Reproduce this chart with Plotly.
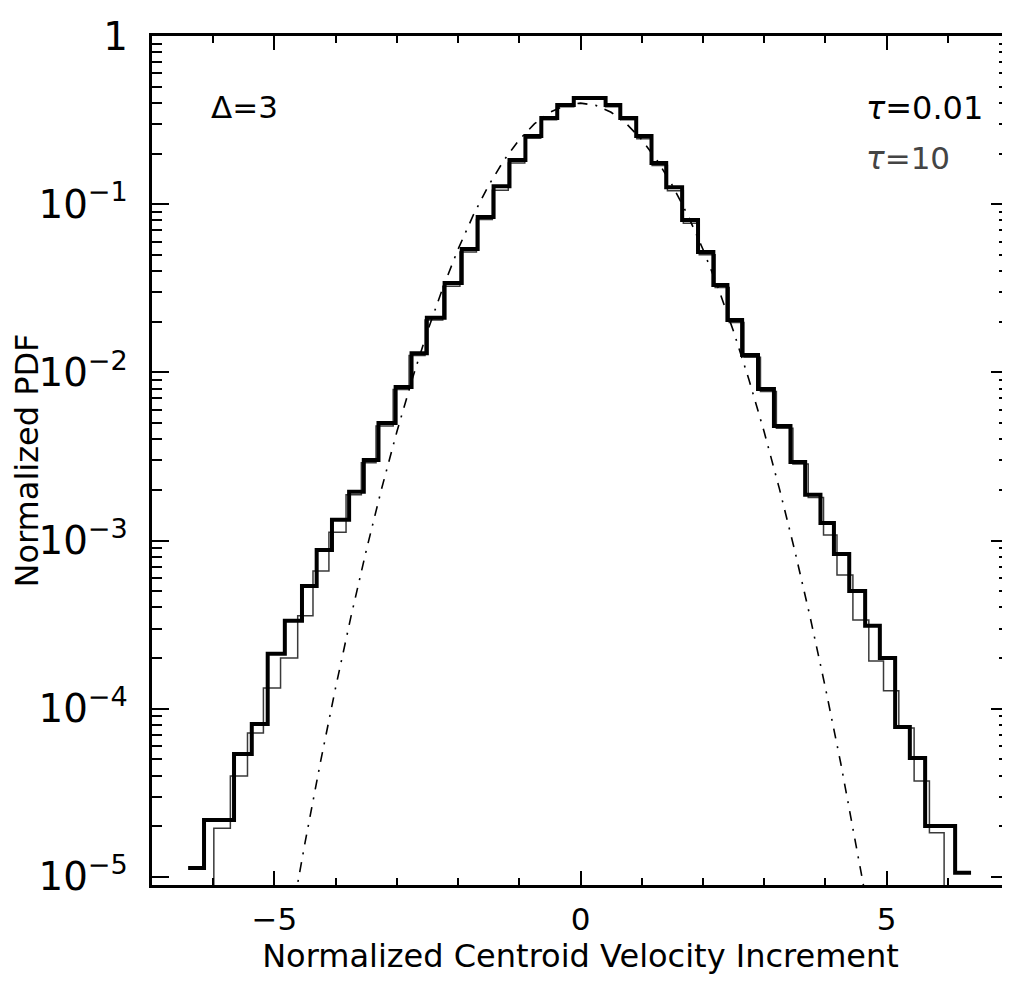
import plotly.graph_objects as go

# ---------------- data ----------------
# tau = 0.01 (thick histogram): bin edges and normalized PDF per bin
thick_edges = [-6.41, -6.15, -5.91, -5.66, -5.37, -5.11, -4.83, -4.55, -4.31, -4.06,
               -3.78, -3.54, -3.30, -3.02, -2.76, -2.51, -2.22, -1.94, -1.68, -1.42,
               -1.16, -0.90, -0.64, -0.38, -0.11, 0.15, 0.41, 0.65, 0.91, 1.16,
               1.40, 1.66, 1.92, 2.17, 2.40, 2.64, 2.90, 3.16, 3.43, 3.67,
               3.92, 4.14, 4.39, 4.65, 4.89, 5.14, 5.38, 5.63, 5.87, 6.12, 6.38]
thick_pdf = [1.13e-5, 2.18e-5, 2.18e-5, 5.38e-5, 8.12e-5, 2.12e-4, 3.33e-4, 5.37e-4, 8.79e-4, 1.33e-3,
             1.95e-3, 3.01e-3, 5.00e-3, 8.19e-3, 1.30e-2, 2.11e-2, 3.40e-2, 5.42e-2, 8.39e-2, 0.128,
             0.183, 0.254, 0.325, 0.389, 0.428, 0.428, 0.389, 0.325, 0.254, 0.176,
             0.126, 0.0805, 0.052, 0.0331, 0.0205, 0.0127, 7.97e-3, 4.80e-3, 2.93e-3, 1.87e-3,
             1.27e-3, 8.32e-4, 5.01e-4, 3.11e-4, 2.00e-4, 7.80e-5, 5.09e-5, 2.01e-5, 2.01e-5, 1.06e-5]

# tau = 10 (thin histogram); 0 = empty bin
thin_edges = [-6.50, -6.23, -5.99, -5.72, -5.44, -5.18, -4.90, -4.62, -4.37, -4.11,
              -3.83, -3.58, -3.34, -3.06, -2.80, -2.54, -2.25, -1.97, -1.70, -1.44,
              -1.18, -0.91, -0.65, -0.39, -0.11, 0.15, 0.41, 0.66, 0.92, 1.17,
              1.42, 1.68, 1.94, 2.20, 2.43, 2.67, 2.94, 3.20, 3.47, 3.72,
              3.97, 4.19, 4.45, 4.71, 4.95, 5.20, 5.45, 5.70, 5.94, 6.20, 6.46]
thin_pdf = [0, 0, 1.95e-5, 3.98e-5, 7.18e-5, 1.33e-4, 2.00e-4, 3.57e-4, 6.59e-4, 1.12e-3,
            1.87e-3, 2.90e-3, 4.80e-3, 7.90e-3, 1.26e-2, 2.05e-2, 3.25e-2, 5.20e-2, 8.10e-2, 0.121,
            0.176, 0.247, 0.318, 0.380, 0.420, 0.420, 0.380, 0.318, 0.245, 0.170,
            0.120, 0.0770, 0.0500, 0.0320, 0.0198, 0.0123, 7.70e-3, 4.65e-3, 2.85e-3, 1.80e-3,
            1.08e-3, 6.24e-4, 3.37e-4, 1.92e-4, 1.28e-4, 7.69e-5, 3.72e-5, 1.83e-5, 0, 0]

# Gaussian reference curve (dash-dot)
gauss_x = [-4.75, -4.5, -4.25, -4.0, -3.75, -3.5, -3.25, -3.0, -2.75, -2.5,
           -2.25, -2.0, -1.75, -1.5, -1.25, -1.0, -0.75, -0.5, -0.25, 0.0,
           0.25, 0.5, 0.75, 1.0, 1.25, 1.5, 1.75, 2.0, 2.25, 2.5,
           2.75, 3.0, 3.25, 3.5, 3.75, 4.0, 4.25, 4.5, 4.75]
gauss_pdf = [5.03e-6, 1.598e-5, 4.772e-5, 1.338e-4, 3.526e-4, 8.727e-4, 2.029e-3, 4.432e-3, 9.094e-3, 1.753e-2,
             3.174e-2, 5.399e-2, 8.628e-2, 0.1295, 0.1826, 0.2420, 0.3011, 0.3521, 0.3867, 0.3989,
             0.3867, 0.3521, 0.3011, 0.2420, 0.1826, 0.1295, 0.08628, 0.05399, 0.03174, 0.01753,
             9.094e-3, 4.432e-3, 2.029e-3, 8.727e-4, 3.526e-4, 1.338e-4, 4.772e-5, 1.598e-5, 5.03e-6]

x_tick_vals = [-5, 0, 5]
label_delta = "\u0394=3"
label_thick = "<i>\u03c4</i>=0.01"
label_thin = "<i>\u03c4</i>=10"
x_title = "Normalized Centroid Velocity Increment"
y_title = "Normalized PDF"

FONT = "DejaVu Sans"
X_RANGE = [-7, 7]
Y_RANGE = [-5.048, 0]

# tick positions for the mirrored (top / right) tick rows
x_minor_vals = list(range(-7, 8))
y_major_vals = [10.0 ** p for p in range(-5, 1)]
y_minor_vals = [m * 10.0 ** p for p in range(-6, 0) for m in range(2, 10)]


def steps(edges, vals):
    ys = [v if v > 0 else 1e-12 for v in vals]  # empty bins drop below the axis
    return list(edges), ys + [ys[-1]]


fig = go.Figure()

tx, ty = steps(thin_edges, thin_pdf)
fig.add_trace(go.Scatter(x=tx, y=ty, mode="lines", line_shape="hv",
                         line=dict(color="#3a3a3a", width=1.5), name="\u03c4=10",
                         hoverinfo="skip"))

kx, ky = steps(thick_edges, thick_pdf)
fig.add_trace(go.Scatter(x=kx, y=ky, mode="lines", line_shape="hv",
                         line=dict(color="black", width=4), name="\u03c4=0.01",
                         hoverinfo="skip"))

fig.add_trace(go.Scatter(x=gauss_x, y=gauss_pdf, mode="lines",
                         line=dict(color="black", width=1.6, dash="10px,8px,2px,8px"),
                         name="Gaussian", hoverinfo="skip"))

# empty traces that keep the mirrored (top / right) tick axes alive
for xa, ya in (("x2", "y2"), ("x3", "y3")):
    fig.add_trace(go.Scatter(x=[None], y=[None], xaxis=xa, yaxis=ya, mode="lines",
                             showlegend=False, hoverinfo="skip"))

x_minor = dict(ticks="inside", tickmode="linear", tick0=0, dtick=1, ticklen=7,
               tickwidth=2, tickcolor="black", showgrid=False)
y_minor = dict(ticks="inside", dtick="D1", ticklen=10, tickwidth=2,
               tickcolor="black", showgrid=False)

common_overlay = dict(showticklabels=False, ticks="inside", tickwidth=2, tickcolor="black",
                      showline=False, showgrid=False, zeroline=False, automargin=False)

fig.update_layout(
    template="none",
    width=1010, height=982,
    margin=dict(l=144, r=9, t=28, b=105),
    paper_bgcolor="white", plot_bgcolor="white",
    showlegend=False,
    font=dict(family=FONT, size=31, color="black"),
    xaxis=dict(
        range=X_RANGE, tickmode="array", tickvals=x_tick_vals,
        ticks="inside", ticklen=14, tickwidth=2, tickcolor="black",
        showline=True, linewidth=3, linecolor="black", mirror=True,
        showgrid=False, zeroline=False, automargin=False,
        ticklabelstandoff=5,
        tickfont=dict(family=FONT, size=31),
        minor=x_minor,
        title=dict(text=x_title, standoff=6, font=dict(family=FONT, size=32)),
    ),
    yaxis=dict(
        type="log", range=Y_RANGE, dtick=1, exponentformat="power",
        ticks="inside", ticklen=17, tickwidth=2, tickcolor="black",
        showline=True, linewidth=3, linecolor="black", mirror=True,
        showgrid=False, zeroline=False, automargin=False,
        ticklabelstandoff=15,
        tickfont=dict(family=FONT, size=31),
        minor=y_minor,
        title=dict(text=y_title, standoff=2, font=dict(family=FONT, size=32)),
    ),
    # top row: minor (x2) and major (x3) ticks
    xaxis2=dict(overlaying="x", side="top", anchor="y2", range=X_RANGE,
                tickmode="array", tickvals=x_minor_vals, ticklen=7, **common_overlay),
    xaxis3=dict(overlaying="x", side="top", anchor="y3", range=X_RANGE,
                tickmode="array", tickvals=x_tick_vals, ticklen=14, **common_overlay),
    # right column: minor (y2) and major (y3) ticks
    yaxis2=dict(overlaying="y", side="right", anchor="x2", type="log", range=Y_RANGE,
                tickmode="array", tickvals=y_minor_vals, ticklen=10, **common_overlay),
    yaxis3=dict(overlaying="y", side="right", anchor="x3", type="log", range=Y_RANGE,
                tickmode="array", tickvals=y_major_vals, ticklen=18, **common_overlay),
    annotations=[
        dict(text=label_delta, xref="paper", yref="paper", x=0.1074, y=0.9164,
             xanchor="center", yanchor="middle", showarrow=False,
             font=dict(family=FONT, size=31, color="black")),
        dict(text=label_thick, xref="paper", yref="paper", x=0.831, y=0.9152,
             xanchor="left", yanchor="middle", showarrow=False,
             font=dict(family=FONT, size=32, color="black")),
        dict(text=label_thin, xref="paper", yref="paper", x=0.831, y=0.8563,
             xanchor="left", yanchor="middle", showarrow=False,
             font=dict(family=FONT, size=31, color="#444444")),
    ],
)

fig.write_html("out.html")
